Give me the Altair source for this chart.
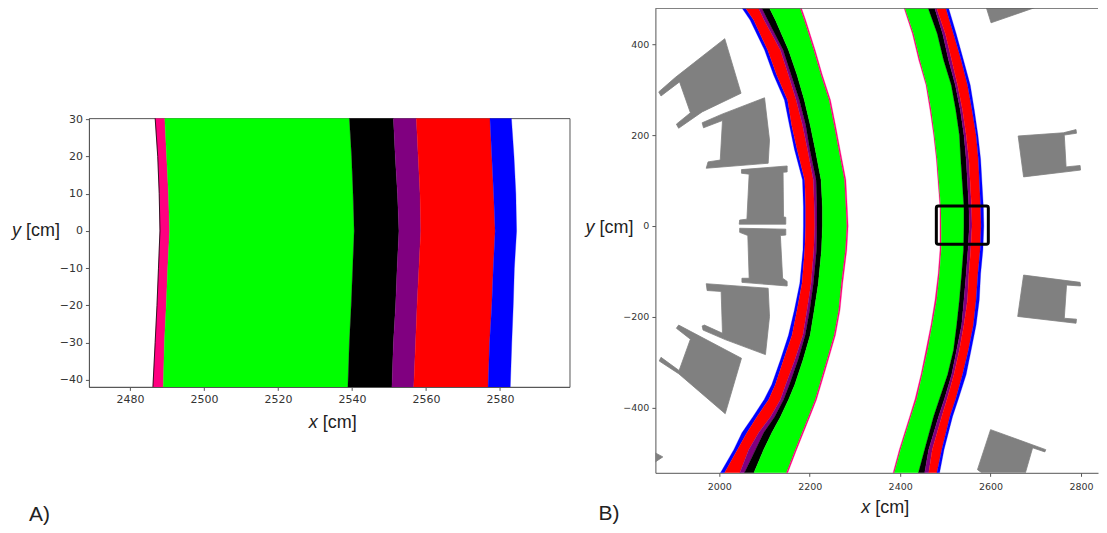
import altair as alt
import pandas as pd

# ---- panel A: close-up of the ring segment ----
a_y = [30.3, 20, 10, 0, -10, -20, -30, -41.9]
a_pink = [2486.8, 2487.5, 2487.9, 2488.1, 2487.7, 2487.3, 2486.8, 2486.2]
a_green = [2489.4, 2489.9, 2490.4, 2490.7, 2490.2, 2489.8, 2489.3, 2489.0]
a_black = [2539.3, 2539.9, 2540.3, 2540.6, 2540.2, 2539.8, 2539.3, 2538.9]
a_purple = [2551.2, 2551.7, 2552.3, 2552.7, 2552.2, 2551.8, 2551.2, 2550.8]
a_red = [2557.4, 2557.9, 2558.4, 2558.6, 2558.1, 2557.6, 2557.2, 2556.7]
a_blue = [2577.3, 2577.8, 2578.3, 2578.7, 2578.2, 2577.8, 2577.2, 2576.8]
a_end = [2583.1, 2583.8, 2584.3, 2584.5, 2583.9, 2583.6, 2583.2, 2582.8]

# ---- panel B: inner ring boundaries ----
r1_y = [493, 453, 387, 332, 277, 222, 169, 101, 42, 0, -53, -126, -185, -240, -295, -349, -382, -420, -455, -492, -544]
r1_blue = [2041, 2068, 2100, 2120, 2144, 2155, 2166, 2184, 2186, 2186, 2185, 2178, 2166, 2153, 2135, 2116, 2099, 2074, 2050, 2032, 2002]
r1_red = [2049, 2076, 2107, 2127, 2151, 2160, 2172, 2189, 2191, 2191, 2189, 2183, 2172, 2161, 2142, 2124, 2109, 2083, 2061, 2040, 2011]
r1_purple = [2080, 2099, 2135, 2153, 2170, 2184, 2195, 2208, 2210, 2211, 2209, 2203, 2194, 2185, 2167, 2147, 2135, 2113, 2087, 2065, 2045]
r1_black = [2087, 2107, 2141, 2159, 2177, 2191, 2200, 2214, 2216, 2216, 2215, 2208, 2200, 2190, 2174, 2155, 2142, 2122, 2098, 2080, 2055]
r1_green = [2104, 2124, 2153, 2172, 2188, 2201, 2212, 2225, 2228, 2228, 2226, 2219, 2210, 2201, 2185, 2167, 2153, 2135, 2116, 2098, 2076]
r1_end = [2174, 2188, 2209, 2225, 2243, 2254, 2264, 2277, 2280, 2282, 2279, 2270, 2264, 2254, 2238, 2222, 2212, 2197, 2183, 2168, 2148]
r1_pink = [2177, 2191, 2212, 2228, 2246, 2257, 2267, 2280, 2283, 2285, 2282, 2273, 2267, 2257, 2241, 2225, 2215, 2200, 2186, 2171, 2151]

# ---- panel B: outer ring boundaries ----
r2_y = [493, 423, 365, 310, 255, 200, 147, 42, 0, -53, -105, -163, -218, -273, -327, -380, -419, -492, -544]
r2_pink = [2404, 2427, 2441, 2457, 2466, 2474, 2480, 2488, 2488, 2488, 2484, 2477, 2468, 2457, 2446, 2433, 2421, 2398, 2384]
r2_green = [2406, 2430, 2444, 2459, 2469, 2476, 2482, 2490, 2491, 2491, 2487, 2481, 2471, 2461, 2449, 2437, 2424, 2401, 2387]
r2_black = [2457, 2482, 2496, 2513, 2523, 2531, 2534, 2541, 2541, 2540, 2536, 2531, 2525, 2518, 2505, 2487, 2474, 2454, 2440]
r2_purple = [2472, 2494, 2507, 2522, 2533, 2541, 2546, 2552, 2553, 2550, 2546, 2541, 2536, 2525, 2514, 2498, 2485, 2463, 2454]
r2_red = [2476, 2500, 2514, 2527, 2538, 2546, 2552, 2558, 2559, 2556, 2552, 2549, 2541, 2531, 2519, 2504, 2492, 2471, 2463]
r2_blue = [2497, 2518, 2535, 2549, 2559, 2568, 2573, 2578, 2579, 2577, 2572, 2568, 2562, 2551, 2538, 2523, 2510, 2492, 2481]
r2_end = [2503, 2524, 2540, 2555, 2564, 2572, 2578, 2584, 2585, 2583, 2578, 2575, 2568, 2557, 2546, 2529, 2516, 2497, 2487]

# ---- panel B: grey pieces, outline vertices (x, y) ----
pieces = {
    "a": [(2012, 412), (2048, 292), (1962, 251), (1910, 215), (1905, 224), (1936, 249),
          (1912, 317), (1871, 286), (1866, 295), (1903, 327)],
    "b": [(2100, 282), (2111, 189), (2108, 138), (1971, 127), (1975, 141), (2002, 145),
          (2007, 232), (1965, 216), (1962, 227), (2006, 246)],
    "c": [(2150, 132), (2150, 119), (2141, 118), (2142, 20), (2147, 19), (2147, 4), (2044, 4),
          (2045, 13), (2061, 15), (2066, 114), (2049, 116), (2049, 124)],
    "d": [(2045, -5), (2147, -7), (2147, -20), (2135, -21), (2140, -115), (2150, -122),
          (2150, -132), (2050, -124), (2050, -115), (2066, -115), (2063, -21), (2045, -14)],
    "e": [(1971, -127), (2108, -137), (2111, -199), (2102, -283), (2013, -250), (1964, -229),
          (1962, -220), (1967, -218), (2007, -236), (2004, -144), (1973, -142)],
    "f": [(1910, -218), (2049, -291), (2013, -413), (1910, -325), (1867, -297), (1871, -289),
          (1911, -318), (1936, -249), (1905, -225)],
    "g": [(1845, -492), (1875, -508), (1845, -528)],
    "h": [(2586, 495), (2722, 495), (2720, 488), (2601, 447)],
    "i": [(2661, 198), (2761, 205), (2789, 212), (2790, 204), (2763, 200), (2767, 130),
          (2798, 133), (2799, 123), (2673, 108)],
    "j": [(2673, -108), (2798, -124), (2799, -132), (2768, -130), (2763, -203), (2790, -205),
          (2789, -214), (2660, -199)],
    "k": [(2600, -448), (2722, -492), (2720, -497), (2693, -488), (2675, -550), (2590, -550), (2571, -536)],
}

# zoom window drawn in panel B
box = pd.DataFrame({"a": [2480], "b": [2595], "y": [-40], "y2": [44]})

PINK, GREEN, PURPLE = "#ff0080", "#00ff00", "#800080"
AXC = "#555555"


def axis(vals, size, pad=3):
    return alt.Axis(values=vals, title=None, grid=False, labelFont="DejaVu Sans", labelFontSize=size,
                    labelColor="#333333", tickColor=AXC, tickSize=3.5, domainColor=AXC, format="d",
                    labelPadding=pad, labelFlush=False, labelOverlap=False)


def bands(ys, edges, xs, ysc, sw=0.3):
    out = []
    for a, b, col in edges:
        verts = list(zip(a, ys)) + list(zip(b, ys))[::-1]
        d = pd.DataFrame({"a": [v[0] for v in verts], "y": [v[1] for v in verts], "i": range(len(verts))})
        out.append(alt.Chart(d).mark_line(interpolate="linear-closed", fill=col, stroke=col, strokeWidth=sw,
                                          clip=True, filled=True).encode(x=xs, y=ysc, order="i:Q"))
    return out


def label(t, x, y, size=18, italic=False, align="left"):
    d = pd.DataFrame({"t": [t]})
    return alt.Chart(d).mark_text(font="Liberation Sans", fontSize=size, color="#222222", align=align,
                                  baseline="middle", fontStyle="italic" if italic else "normal").encode(
        x=alt.value(x), y=alt.value(y), text="t:N")


# ---------- panel A ----------
xa = alt.X("a:Q", scale=alt.Scale(domain=[2468.9, 2598.8], nice=False, zero=False),
           axis=axis([2480, 2500, 2520, 2540, 2560, 2580], 11))
ya = alt.Y("y:Q", scale=alt.Scale(domain=[-41.9, 30.3], nice=False, zero=False),
           axis=axis([-40, -30, -20, -10, 0, 10, 20, 30], 11))
a_edges = [(a_pink, a_green, PINK), (a_green, a_black, GREEN), (a_black, a_purple, "black"),
           (a_purple, a_red, PURPLE), (a_red, a_blue, "red"), (a_blue, a_end, "blue")]
a_edge_df = pd.DataFrame({"a": a_pink, "y": a_y, "i": range(len(a_y))})
a_edge = alt.Chart(a_edge_df).mark_line(color="black", strokeWidth=0.8, clip=True).encode(x=xa, y=ya, order="i:Q")
panel_a = alt.layer(
    *bands(a_y, a_edges, xa, ya), a_edge,
    label("y", -77, 113, italic=True), label("[cm]", -63, 113),
    label("x", 220, 305, italic=True), label("[cm]", 234, 305),
    label("A)", -60, 397, size=21),
).properties(width=481, height=269, view=alt.ViewConfig(stroke=AXC))

spacer = alt.Chart(pd.DataFrame({"t": [0]})).mark_rule(opacity=0).encode(
    x=alt.value(0), y=alt.value(0), y2=alt.value(104)).properties(width=481, height=104)

# ---------- panel B ----------
sxb = alt.Scale(domain=[1858.6, 2837.6], nice=False, zero=False)
syb = alt.Scale(domain=[-543, 479], nice=False, zero=False)
xb = alt.X("a:Q", scale=sxb, axis=axis([2000, 2200, 2400, 2600, 2800], 9.5, pad=5))
yb = alt.Y("y:Q", scale=syb, axis=axis([-400, -200, 0, 200, 400], 9.5))
r1_edges = [(r1_blue, r1_red, "blue"), (r1_red, r1_purple, "red"), (r1_purple, r1_black, PURPLE),
            (r1_black, r1_green, "black"), (r1_green, r1_end, GREEN), (r1_end, r1_pink, PINK)]
r2_edges = [(r2_pink, r2_green, PINK), (r2_green, r2_black, GREEN), (r2_black, r2_purple, "black"),
            (r2_purple, r2_red, PURPLE), (r2_red, r2_blue, "red"), (r2_blue, r2_end, "blue")]
rows = []
for k, pts in pieces.items():
    for i, (px, py) in enumerate(pts):
        rows.append({"piece": k, "i": i, "a": px, "y": py})
grey = alt.Chart(pd.DataFrame(rows)).mark_line(
    interpolate="linear-closed", fill="#808080", stroke="#808080", strokeWidth=0.8, clip=True, filled=True
).encode(x=xb, y=yb, detail="piece:N", order="i:Q")
boxm = alt.Chart(box).mark_rect(filled=False, stroke="black", strokeWidth=3, cornerRadius=2).encode(
    x=xb, x2="b:Q", y=yb, y2="y2:Q")
top = alt.Chart(pd.DataFrame({"t": [0]})).mark_rule(color=AXC, strokeWidth=1).encode(
    x=alt.value(0), x2=alt.value(443), y=alt.value(0))
panel_b = alt.layer(
    grey, *bands(r1_y, r1_edges, xb, yb), *bands(r2_y, r2_edges, xb, yb), boxm, top,
    label("y", -70, 220, italic=True), label("[cm]", -56, 220),
    label("x", 206, 500, italic=True), label("[cm]", 220, 500),
    label("B)", -57, 506, size=21),
).properties(width=443, height=465)

chart = alt.hconcat(
    alt.vconcat(spacer, panel_a, spacing=0), panel_b, spacing=15,
    padding={"left": 3, "top": -1, "right": 0, "bottom": 0}
).configure_view(stroke=None)

chart.save("out.html", embed_options={"renderer": "svg", "actions": False})
